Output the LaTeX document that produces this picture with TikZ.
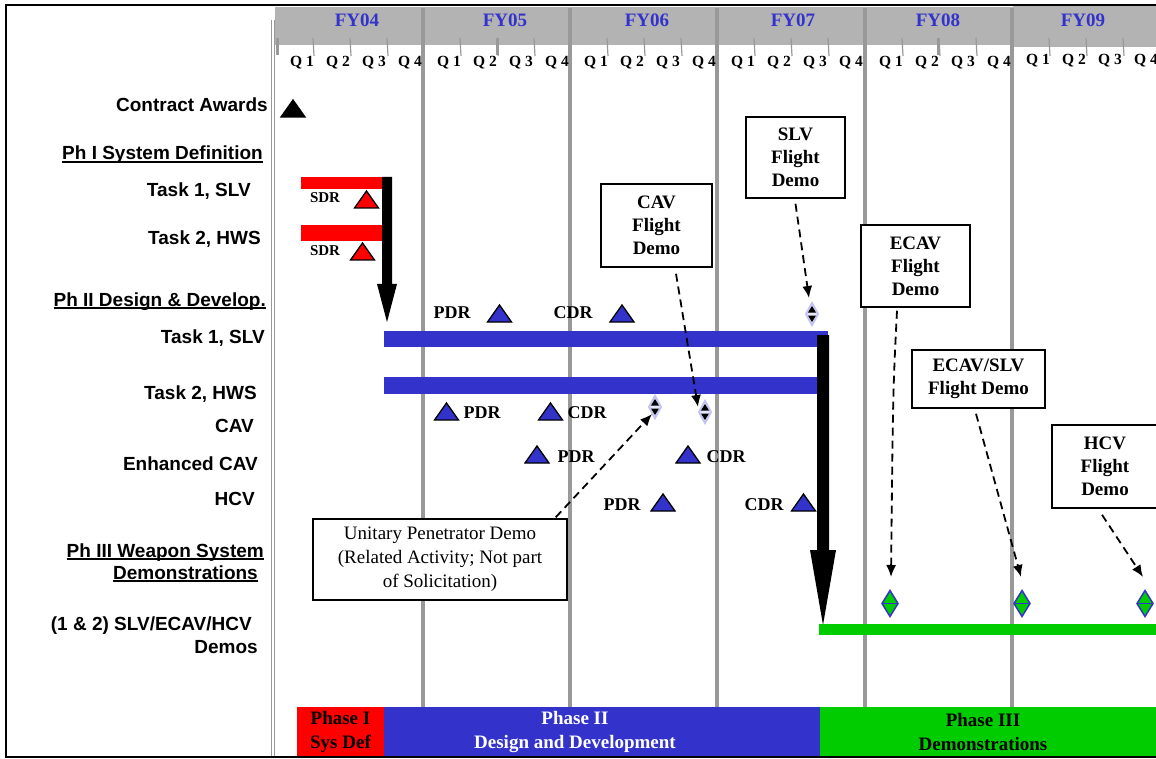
\documentclass[tikz,border=0pt]{standalone}
\usepackage{fontspec}
\setmainfont{Liberation Serif}
\newfontfamily\lsans{Liberation Sans}
\usetikzlibrary{arrows.meta}
\definecolor{mblue}{HTML}{3333CC}
\definecolor{mred}{HTML}{FF0000}
\definecolor{mgreen}{HTML}{00CC00}
\definecolor{hdrgray}{HTML}{B3B3B3}
\definecolor{lngray}{HTML}{999999}
\definecolor{lav}{HTML}{C4C4F2}
\newcommand\myul[1]{\setbox0=\hbox{#1}\rlap{\vrule height -1.3pt depth 2.9pt width \wd0}\box0}
\begin{document}
\begin{tikzpicture}[x=1pt,y=-1pt,
 rowlabel/.style={anchor=base east,inner sep=0pt,font=\lsans\bfseries\fontsize{19}{22}\selectfont},
 mslabel/.style={anchor=base,inner sep=0pt,font=\bfseries\fontsize{18}{22}\selectfont},
 sdrlabel/.style={anchor=base,inner sep=0pt,font=\bfseries\fontsize{15}{18}\selectfont},
 qlabel/.style={anchor=base,inner sep=0pt,font=\bfseries\fontsize{15.5}{18}\selectfont},
 fylabel/.style={anchor=base,inner sep=0pt,text=mblue,font=\bfseries\fontsize{19}{22}\selectfont},
 callout/.style={draw,line width=1.5pt,fill=white,align=center,inner sep=0pt,font=\bfseries\fontsize{19}{23}\selectfont},
 plainbox/.style={draw,line width=1.5pt,fill=white,align=center,inner sep=0pt,font=\fontsize{19}{24}\selectfont},
 phasetext/.style={align=center,inner sep=0pt,font=\bfseries\fontsize{19}{24}\selectfont},
 linkarrow/.style={-{Latex[length=12pt,width=10pt]},dash pattern=on 8pt off 5pt,line width=1.8pt},
 yearline/.style={lngray,line width=4pt},
 tri/.pic={\path[draw=black,line width=1.3pt,pic actions] (-12,0) -- (12,0) -- (0,-17) -- cycle;},
 smalldia/.pic={
   \path[fill=lav!40,draw=lav,line width=2pt] (0,-11) -- (6,0) -- (0,11) -- (-6,0) -- cycle;
   \fill[black] (-4,-1.5) -- (4,-1.5) -- (0,-8) -- cycle;
   \fill[black] (-4,1.5) -- (4,1.5) -- (0,8) -- cycle;},
 greendia/.pic={
   \path[fill=mgreen,draw=mblue,line width=1.5pt] (0,-13) -- (8,0) -- (0,13) -- (-8,0) -- cycle;
   \draw[mblue,line width=1pt] (-8,0) -- (8,0);}
]
\useasboundingbox (0,0) rectangle (1156,759);
\fill[white] (0,0) rectangle (1156,759);

% header band
\fill[hdrgray] (275,7) rectangle (1160,45);
\fill[hdrgray] (1013,4) rectangle (1160,47);

% year lines
\foreach \xx in {423,570,717,865,1012}
  \draw[yearline] (\xx,8) -- (\xx,707);
% left double line
\draw[lngray,line width=1pt] (271,20) -- (271,757);
\draw[lngray,line width=1pt] (274.5,20) -- (274.5,757);
\fill[lngray] (275.5,38) rectangle (279,55);
\fill[lngray] (495.5,38) rectangle (498.5,55);
\fill[lngray] (937,38) rectangle (940,55);

% quarter ticks and labels
\foreach \ys in {276,423,570,717,865,1012}{
  \foreach \q in {1,2,3}
    \draw[lngray,line width=1.2pt] (\ys+37*\q,38) -- (\ys+37*\q+1,56);
}
\foreach \ys/\bl in {276/66.5,423/66.5,570/66.5,717/66.5,865/66.5,1012/65}{
  \foreach \q in {1,2,3,4}
    \node[qlabel] at (\ys+26+36*\q-36,\bl) {Q \q};
}
\node[fylabel] (fy04) at (357,27) {FY04};
\node[fylabel] (fy05) at (505,27) {FY05};
\node[fylabel] (fy06) at (647,27) {FY06};
\node[fylabel] (fy07) at (793,27) {FY07};
\node[fylabel] (fy08) at (938,27) {FY08};
\node[fylabel] (fy09) at (1083,27) {FY09};

% frame
\draw[line width=2.5pt] (6,5) rectangle (1163,757);

% row labels
\node[rowlabel] (l1) at (268,112) {Contract Awards};
\node[rowlabel] (l2) at (263,160) {\myul{Ph I System Definition}};
\node[rowlabel] (l3) at (251,197) {Task 1, SLV};
\node[rowlabel] (l4) at (261,245) {Task 2, HWS};
\node[rowlabel] (l5) at (266,306) {\myul{Ph II Design \& Develop.}};
\node[rowlabel] (l6) at (265,343) {Task 1, SLV};
\node[rowlabel] (l7) at (257,399) {Task 2, HWS};
\node[rowlabel] (l8) at (254,432) {CAV};
\node[rowlabel] (l9) at (258,470) {Enhanced CAV};
\node[rowlabel] (l10) at (255,505) {HCV};
\node[rowlabel] (l11) at (264,557) {\myul{Ph III Weapon System}};
\node[rowlabel] (l12) at (258,579) {\myul{Demonstrations}};
\node[rowlabel] (l13) at (252,630) {(1 \& 2) SLV/ECAV/HCV};
\node[rowlabel] (l14) at (258,653) {Demos};

% contract award
\pic[fill=black] (award) at (293,117) {tri};

% phase I bars
\fill[mred] (301,177) rectangle (383,189);
\fill[mred] (301,225) rectangle (383,241);
\node[sdrlabel] (sdr1) at (325,203) {SDR};
\node[sdrlabel] (sdr2) at (325,256) {SDR};
\pic[fill=mred] (sdrt1) at (366.5,208) {tri};
\pic[fill=mred] (sdrt2) at (362.5,260) {tri};
% black arrow phase I -> II
\fill[black] (382,177) -- (392,177) -- (392,284) -- (397,284) -- (387,322) -- (377,284) -- (382,284) -- cycle;

% phase II bars
\fill[mblue] (384,331) rectangle (828,347);
\fill[mblue] (384,377) rectangle (818,394);

% milestones phase II
\pic[fill=mblue] (t1) at (499.5,322) {tri};
\node[mslabel] (m1) at (452,318) {PDR};
\pic[fill=mblue] (t2) at (622,322) {tri};
\node[mslabel] (m2) at (573,318) {CDR};
\pic[fill=mblue] (t3) at (446.5,420) {tri};
\node[mslabel] (m3) at (482,418) {PDR};
\pic[fill=mblue] (t4) at (550.5,420) {tri};
\node[mslabel] (m4) at (587,418) {CDR};
\pic[fill=mblue] (t5) at (537,463) {tri};
\node[mslabel] (m5) at (576,462) {PDR};
\pic[fill=mblue] (t6) at (688,463) {tri};
\node[mslabel] (m6) at (726,462) {CDR};
\pic[fill=mblue] (t7) at (663,511) {tri};
\node[mslabel] (m7) at (622,510) {PDR};
\pic[fill=mblue] (t8) at (803.5,511) {tri};
\node[mslabel] (m8) at (764,510) {CDR};

% small flight demo markers
\pic (d1) at (812,314) {smalldia};
\pic (d2) at (655,407) {smalldia};
\pic (d3) at (705,412) {smalldia};

% big arrow phase II -> III
\fill[black] (817,335) -- (829,335) -- (829,550) -- (836,550) -- (823,625) -- (810,550) -- (817,550) -- cycle;

% phase III bar
\fill[mgreen] (819,624) rectangle (1160,635);
\pic (g1) at (890,603.5) {greendia};
\pic (g2) at (1022,603.5) {greendia};
\pic (g3) at (1145,603.5) {greendia};

% callouts
\node[callout,minimum width=111pt,minimum height=83pt] (cav) at (656.5,225.5) {CAV\\Flight\\Demo};
\node[callout,minimum width=99pt,minimum height=81pt] (slv) at (795.5,157.5) {SLV\\Flight\\Demo};
\node[callout,minimum width=109pt,minimum height=82pt] (ecav) at (915.5,266) {ECAV\\Flight\\Demo};
\node[callout,minimum width=133pt,minimum height=58pt] (ecavslv) at (978.5,379) {ECAV/SLV\\Flight Demo};
\node[callout,minimum width=106pt,minimum height=83pt] (hcv) at (1105,466.5) {HCV\\Flight\\Demo};
\node[plainbox,minimum width=254pt,minimum height=81pt] (upd) at (440,559.5) {Unitary Penetrator Demo\\(Related Activity; Not part\\of Solicitation)};

% arrow tips
\coordinate (cavtip) at (698,407);
\coordinate (slvtip) at (809,298);
\coordinate (updtip) at (652,414);
\coordinate (ecavtip) at (891,577);
\coordinate (ecavslvtip) at (1021,577);
\coordinate (hcvtip) at (1143,577);

\draw[linkarrow] ([xshift=19.5pt,yshift=-6pt]cav.south) -- (cavtip);
\draw[linkarrow] ([yshift=-5pt]slv.south) -- (slvtip);
\draw[linkarrow] ([xshift=-12pt,yshift=1pt]upd.north east) -- (updtip);
\draw[linkarrow] ([xshift=-18.5pt,yshift=-3pt]ecav.south) .. controls (893,390) .. (ecavtip);
\draw[linkarrow] ([xshift=-2.5pt,yshift=-5pt]ecavslv.south) -- (ecavslvtip);
\draw[linkarrow] ([xshift=-3pt,yshift=-6pt]hcv.south) -- (hcvtip);

% phase bar
\fill[mred] (297,707) rectangle (384,757);
\fill[mblue] (384,707) rectangle (820,757);
\fill[mgreen] (820,707) rectangle (1160,757);
\node[phasetext] (p1) at (340.5,732) {Phase I\\Sys Def};
\node[phasetext,text=white] (p2) at (575,732) {Phase II\\Design and Development};
\node[phasetext] (p3) at (983,732) {Phase III\\Demonstrations};
\draw[line width=2.5pt] (6,757) -- (1163,757);
\end{tikzpicture}
\end{document}
